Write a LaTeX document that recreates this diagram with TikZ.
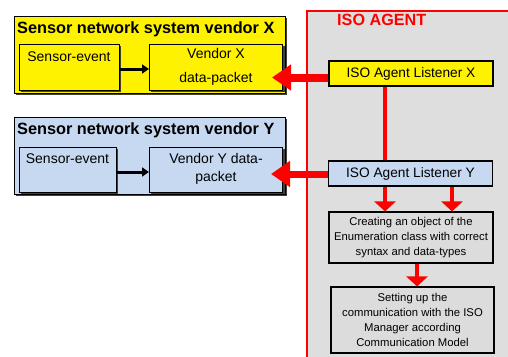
\documentclass[tikz,border=0pt]{standalone}
\usepackage{fontspec}
\setmainfont{Liberation Sans}
\usetikzlibrary{arrows.meta}
\definecolor{vblue}{HTML}{C6D9F1}
\definecolor{agray}{HTML}{DEDEDE}
\definecolor{bgray}{HTML}{DCDCDC}
\tikzset{
  outerbox/.style={draw=black, line width=1.3pt, anchor=north west, inner sep=0pt},
  innerbox/.style={draw=black, line width=1.2pt, anchor=north west, inner sep=0pt},
  titletext/.style={font=\fontsize{16.3}{18}\selectfont\bfseries, anchor=base west, inner sep=0pt},
  boxtext/.style={font=\fontsize{14}{24}\selectfont, align=center, inner sep=0pt},
  listener/.style={draw=black, line width=1.1pt, minimum width=164pt, minimum height=25pt, inner sep=0pt, font=\fontsize{13.7}{16}\selectfont},
  stepbox/.style={draw=black, line width=1.1pt, fill=bgray, inner sep=0pt, align=center, font=\fontsize{11.3}{15}\selectfont},
  blackarrow/.style={line width=3pt, -{Triangle[length=7pt,width=9pt]}},
  bigred/.style={red, line width=8pt, -{Triangle[length=19pt,width=25pt]}},
  smallred/.style={red, line width=4.3pt, -{Triangle[length=10pt,width=21pt]}},
}
\begin{document}
\begin{tikzpicture}[x=1pt,y=-1pt]
\useasboundingbox (0,0) rectangle (508,356);
\clip (0,0) rectangle (508,356);
\fill[white] (0,0) rectangle (508,356);

% ISO agent container
\draw[red, line width=1.3pt, fill=agray] (307,11) rectangle (530,380);
\node[red, font=\fontsize{16.2}{18}\selectfont\bfseries, anchor=west, inner sep=0pt] (agentlabel) at (337,20) {ISO AGENT};

% Vendor X system
\fill[black!75] (16,18) rectangle (287,95);
\node[outerbox, fill=yellow, minimum width=271pt, minimum height=77pt] (sysx) at (14,16) {};
\node[titletext] (titlex) at (17,33) {Sensor network system vendor X};
\fill[black!75] (21,46) rectangle (121,92);
\node[innerbox, fill=yellow, minimum width=100pt, minimum height=46pt] (sex) at (19,44) {};
\node[boxtext] (sextext) at (69,57) {Sensor-event};
\fill[black!75] (151,46) rectangle (285,92);
\node[innerbox, fill=yellow, minimum width=133pt, minimum height=46pt] (vx) at (149,44) {};
\node[boxtext] (vxtext) at (216,67) {Vendor X\\data-packet};
\draw[blackarrow] (sex.east |- 0,69) -- (vx.west |- 0,69);

% Vendor Y system
\fill[black!75] (16,119) rectangle (287,196);
\node[outerbox, fill=vblue, minimum width=271pt, minimum height=77pt] (sysy) at (14,117) {};
\node[titletext] (titley) at (17,134) {Sensor network system vendor Y};
\fill[black!75] (21,149) rectangle (118,194);
\node[innerbox, fill=vblue, minimum width=97pt, minimum height=45pt] (sey) at (19,147) {};
\node[boxtext] (seytext) at (67.5,159) {Sensor-event};
\fill[black!75] (151,149) rectangle (285,194);
\node[innerbox, fill=vblue, minimum width=133pt, minimum height=45pt] (vy) at (149,147) {};
\node[boxtext, font=\fontsize{14}{18}\selectfont] (vytext) at (216,169) {Vendor Y data-\\packet};
\draw[blackarrow] (sey.east |- 0,172) -- (vy.west |- 0,172);

% Listeners
\node[listener, fill=yellow] (lx) at (411,73.5) {ISO Agent Listener X};
\node[listener, fill=vblue] (ly) at (410.5,173.5) {ISO Agent Listener Y};

% Step boxes
\node[stepbox, minimum width=164pt, minimum height=51pt] (create) at (411,237.5)
  {Creating an object of the\\Enumeration class with correct\\syntax and data-types};
\node[stepbox, minimum width=163pt, minimum height=66pt, font=\fontsize{11.3}{14.7}\selectfont] (setup) at (412.5,320)
  {Setting up the\\communication with the ISO\\Manager according\\Communication Model};

% red connectors
\coordinate (tipx) at (272,77.5);
\coordinate (tipy) at (271,174);
\draw[bigred] (lx.west |- tipx) -- (tipx);
\draw[bigred, line width=7pt] (ly.west |- tipy) -- (tipy);
\draw[red, line width=4.3pt] (lx.south -| 385,0) -- (ly.north -| 385,0);
\draw[smallred] (ly.south -| 385,0) -- (create.north -| 385,0);
\draw[smallred] (ly.south -| 452,0) -- (create.north -| 452,0);
\draw[smallred] (create.south -| 417,0) -- (setup.north -| 417,0);
\end{tikzpicture}
\end{document}
